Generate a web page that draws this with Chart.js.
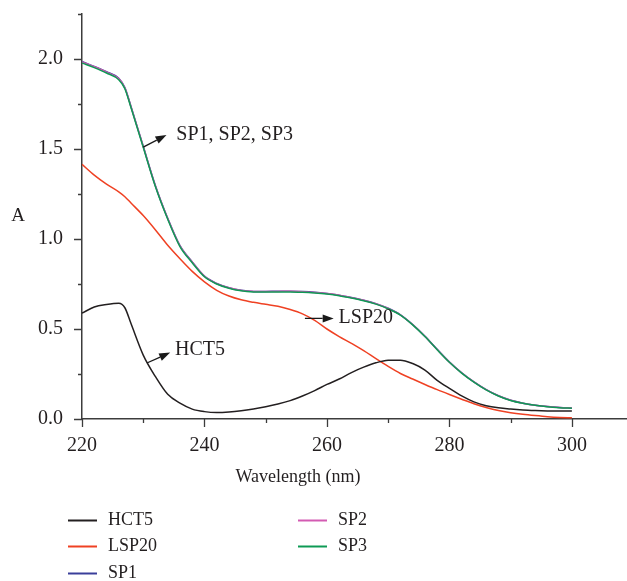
<!DOCTYPE html>
<html>
<head>
<meta charset="utf-8">
<script src="https://cdn.jsdelivr.net/npm/chart.js@4.4.1/dist/chart.umd.min.js"></script>
<style>
  html, body { margin: 0; padding: 0; background: #fff; }
  #wrap { width: 627px; height: 581px; position: relative; }
</style>
</head>
<body>
<div id="wrap"><canvas id="uvChart"></canvas></div>
<script>
// wavelength (nm) and absorbance
const wavelengths = [220, 222, 224, 226, 227, 228, 230, 232, 234, 236, 238, 240, 242, 244, 246, 248, 250, 252, 254, 256, 258,
  260, 262, 264, 266, 268, 270, 272, 274, 276, 278, 280, 282, 284, 286, 288, 290, 292, 294, 296, 298, 300];
const hct5 = [0.588, 0.622, 0.636, 0.643, 0.618, 0.53, 0.355, 0.235, 0.137, 0.088, 0.055, 0.041, 0.036, 0.039, 0.046, 0.056, 0.068,
  0.083, 0.102, 0.128, 0.158, 0.192, 0.222, 0.258, 0.288, 0.312, 0.326, 0.327, 0.308, 0.272, 0.215, 0.17, 0.128, 0.095, 0.074,
  0.062, 0.055, 0.05, 0.047, 0.045, 0.044, 0.044];
const lsp20 = [1.415, 1.355, 1.305, 1.262, 1.235, 1.2, 1.13, 1.05, 0.965, 0.89, 0.82, 0.762, 0.715, 0.683, 0.662, 0.648, 0.637,
  0.626, 0.608, 0.584, 0.548, 0.5, 0.458, 0.42, 0.38, 0.335, 0.292, 0.253, 0.222, 0.192, 0.163, 0.136, 0.11, 0.085, 0.064,
  0.047, 0.035, 0.026, 0.019, 0.013, 0.009, 0.007];
const sp1 = [1.986, 1.959, 1.929, 1.893, 1.841, 1.736, 1.515, 1.295, 1.115, 0.963, 0.873, 0.794, 0.753, 0.729, 0.715, 0.709,
  0.709, 0.71, 0.71, 0.708, 0.704, 0.697, 0.688, 0.675, 0.66, 0.641, 0.615, 0.579, 0.525, 0.46, 0.387, 0.317, 0.257, 0.206,
  0.163, 0.129, 0.104, 0.088, 0.077, 0.069, 0.064, 0.061];
const sp2 = [1.984, 1.957, 1.927, 1.891, 1.84, 1.735, 1.514, 1.294, 1.114, 0.962, 0.872, 0.793, 0.752, 0.729, 0.714, 0.709,
  0.708, 0.709, 0.71, 0.707, 0.703, 0.697, 0.688, 0.674, 0.66, 0.64, 0.614, 0.579, 0.524, 0.459, 0.386, 0.316, 0.256, 0.206,
  0.163, 0.129, 0.104, 0.088, 0.077, 0.069, 0.064, 0.061];
const sp3 = [1.978, 1.952, 1.922, 1.885, 1.835, 1.73, 1.51, 1.29, 1.11, 0.958, 0.868, 0.79, 0.75, 0.726, 0.712, 0.706, 0.705,
  0.706, 0.706, 0.704, 0.7, 0.694, 0.685, 0.672, 0.657, 0.638, 0.612, 0.577, 0.523, 0.458, 0.385, 0.315, 0.255, 0.205,
  0.162, 0.128, 0.103, 0.087, 0.076, 0.068, 0.063, 0.06];

const seriesNames = ['HCT5', 'LSP20', 'SP1', 'SP2', 'SP3'];
const seriesValues = [hct5, lsp20, sp1, sp2, sp3];
const seriesColors = ['#231f20', '#ef4123', '#3a3f9a', '#d35bb2', '#0e9a55'];
const drawOrder = [0, 1, 4, 3, 2];

const xTicks = [220, 230, 240, 250, 260, 270, 280, 290, 300];
const yTicks = [0, 0.25, 0.5, 0.75, 1.0, 1.25, 1.5, 1.75, 2.0, 2.25];

// arrow annotations, in data units (wavelength, absorbance)
const noteLabels = ['SP1, SP2, SP3', 'HCT5', 'LSP20'];
const noteFrom = [[230.0, 1.51], [230.6, 0.311], [256.4, 0.559]];
const noteTo = [[233.8, 1.578], [234.4, 0.369], [261.1, 0.559]];
const noteText = [[235.4, 1.578], [235.2, 0.383], [261.9, 0.564]];

const textColor = '#231f20';
const axisColor = '#3c3c3c';
const fontFamily = '"Liberation Serif", "DejaVu Serif", serif';

const datasets = seriesNames.map((name, i) => ({
  label: name,
  data: wavelengths.map((w, j) => ({ x: w, y: seriesValues[i][j] })),
  borderColor: seriesColors[i],
  borderWidth: 1.5,
  pointRadius: 0,
  cubicInterpolationMode: 'monotone',
  fill: false,
  order: drawOrder[i]
}));

// tick marks, labels, arrows and legend drawn on top
const extras = {
  id: 'extras',
  afterDraw(chart) {
    const { ctx, scales: { x, y } } = chart;
    ctx.save();

    // tick marks (longer for labelled ones)
    ctx.strokeStyle = axisColor;
    ctx.lineWidth = 1.3;
    ctx.beginPath();
    y.ticks.forEach(t => {
      const py = Math.round(y.getPixelForValue(t.value)) + 0.5;
      const len = Number.isInteger(t.value * 2) ? 8 : 4;
      ctx.moveTo(x.left - len, py);
      ctx.lineTo(x.left, py);
    });
    x.ticks.forEach(t => {
      const px = Math.round(x.getPixelForValue(t.value)) + 0.5;
      const len = t.value % 20 === 0 ? 8 : 4;
      ctx.moveTo(px, y.bottom);
      ctx.lineTo(px, y.bottom + len);
    });
    ctx.stroke();

    // axis titles
    ctx.fillStyle = textColor;
    ctx.textBaseline = 'middle';
    ctx.font = '18px ' + fontFamily;
    ctx.textAlign = 'center';
    ctx.fillText('Wavelength (nm)', 298, 477);
    ctx.font = '19px ' + fontFamily;
    ctx.fillText('A', 18, 216);

    // arrow annotations
    ctx.strokeStyle = '#1a1a1a';
    ctx.fillStyle = '#1a1a1a';
    ctx.lineWidth = 1.3;
    noteLabels.forEach((label, i) => {
      const x0 = x.getPixelForValue(noteFrom[i][0]), y0 = y.getPixelForValue(noteFrom[i][1]);
      const x1 = x.getPixelForValue(noteTo[i][0]), y1 = y.getPixelForValue(noteTo[i][1]);
      const ang = Math.atan2(y1 - y0, x1 - x0);
      const head = 11, half = 4;
      const bx = x1 - head * Math.cos(ang), by = y1 - head * Math.sin(ang);
      ctx.beginPath();
      ctx.moveTo(x0, y0);
      ctx.lineTo(bx, by);
      ctx.stroke();
      ctx.beginPath();
      ctx.moveTo(x1, y1);
      ctx.lineTo(bx + half * Math.sin(ang), by - half * Math.cos(ang));
      ctx.lineTo(bx - half * Math.sin(ang), by + half * Math.cos(ang));
      ctx.closePath();
      ctx.fill();
      ctx.fillStyle = textColor;
      ctx.font = '20px ' + fontFamily;
      ctx.textAlign = 'left';
      ctx.fillText(label, x.getPixelForValue(noteText[i][0]), y.getPixelForValue(noteText[i][1]));
      ctx.fillStyle = '#1a1a1a';
    });

    // legend in two columns
    const colX = [68, 298];
    const rowY = [520, 546, 573];
    ctx.font = '18px ' + fontFamily;
    ctx.textAlign = 'left';
    seriesNames.forEach((name, i) => {
      const col = i < 3 ? 0 : 1;
      const row = i < 3 ? i : i - 3;
      const lx = colX[col], ly = rowY[row];
      ctx.strokeStyle = seriesColors[i];
      ctx.lineWidth = 2;
      ctx.beginPath();
      ctx.moveTo(lx, ly + 0.5);
      ctx.lineTo(lx + 29, ly + 0.5);
      ctx.stroke();
      ctx.fillStyle = textColor;
      ctx.fillText(name, lx + 40, ly);
    });

    ctx.restore();
  }
};

new Chart(document.getElementById('uvChart'), {
  type: 'line',
  data: { datasets },
  options: {
    responsive: true,
    maintainAspectRatio: false,
    animation: false,
    layout: { padding: { top: 14, right: 0, left: 0, bottom: 0 } },
    plugins: {
      legend: { display: false },
      tooltip: { enabled: false }
    },
    scales: {
      x: {
        type: 'linear',
        min: 220,
        max: 309,
        afterBuildTicks: scale => { scale.ticks = xTicks.map(v => ({ value: v })); },
        afterFit: scale => { scale.height = 162; scale.paddingLeft = 0; scale.paddingRight = 0; },
        grid: { display: false, drawTicks: false },
        border: { display: true, color: axisColor, width: 1.5 },
        ticks: {
          autoSkip: false,
          maxRotation: 0,
          padding: 15,
          color: textColor,
          font: { family: fontFamily, size: 20 },
          callback: v => (v % 20 === 0 ? String(v) : '')
        }
      },
      y: {
        type: 'linear',
        min: 0,
        max: 2.25,
        afterBuildTicks: scale => { scale.ticks = yTicks.map(v => ({ value: v })); },
        afterFit: scale => { scale.width = 82; scale.paddingTop = 0; scale.paddingBottom = 0; },
        grid: { display: false, drawTicks: false },
        border: { display: true, color: axisColor, width: 1.5 },
        ticks: {
          padding: 19,
          color: textColor,
          font: { family: fontFamily, size: 20 },
          callback: v => (Number.isInteger(v * 2) ? v.toFixed(1) : '')
        }
      }
    }
  },
  plugins: [extras]
});
</script>
</body>
</html>
